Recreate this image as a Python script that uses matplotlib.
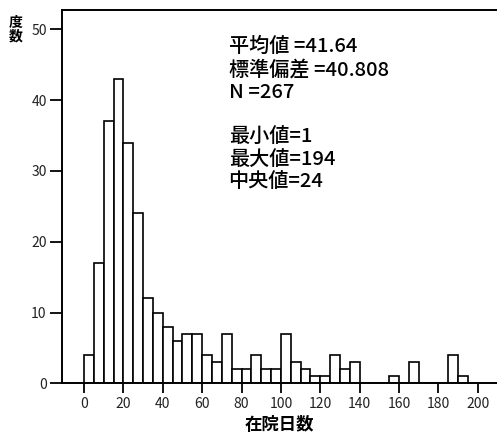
import numpy as np
import matplotlib
matplotlib.use("Agg")
import matplotlib.pyplot as plt

plt.rcParams['font.family'] = ['Noto Sans CJK JP', 'DejaVu Sans']

# Histogram data: 5-day bins starting at 0
bin_width = 5
counts = [4, 17, 37, 43, 34, 24, 12, 10, 8, 6,
          7, 7, 4, 3, 7, 2, 2, 4, 2, 2,
          7, 3, 2, 1, 1, 4, 2, 3, 0, 0,
          0, 1, 0, 3, 0, 0, 0, 4, 1]
bin_starts = np.arange(len(counts)) * bin_width

xticks = list(range(0, 201, 20))
yticks = [0, 10, 20, 30, 40, 50]

stats_text = "平均値 =41.64\n標準偏差 =40.808\nN =267\n\n最小値=1\n最大値=194\n中央値=24"
xlabel = "在院日数"
ylabel = "度\n数"

fig = plt.figure(figsize=(4.97, 4.38), dpi=100)
ax = fig.add_axes([62/497, (438-383.3)/438, 1 - 62/497, (383.3-9.5)/438])

ax.bar(bin_starts, counts, width=bin_width, align='edge',
       facecolor='white', edgecolor='black', linewidth=1.2)

ax.set_xlim(-11.2, 209.8)
ax.set_ylim(0, 52.8)
ax.set_xticks(xticks)
ax.set_yticks(yticks)
ax.tick_params(axis='both', direction='out', width=1.3, colors='black',
               labelsize=10, labelcolor='#222222')
ax.tick_params(axis='x', length=7, pad=3)
ax.tick_params(axis='y', length=9, pad=2)

for s in ['left', 'bottom', 'top']:
    ax.spines[s].set_linewidth(1.4)
ax.spines['right'].set_visible(False)

ax.text(0.383, 0.927, stats_text, transform=ax.transAxes, ha='left', va='top',
        fontsize=14.5, linespacing=1.22, fontweight='medium')

fig.text(16/497, 1 - 30/438, ylabel, ha='center', va='center',
         fontsize=10, fontweight='bold', linespacing=0.95)
fig.text(279/497, 1 - 425/438, xlabel, ha='center', va='center',
         fontsize=12.5, fontweight='bold')

fig.savefig("out.png", dpi=100)
